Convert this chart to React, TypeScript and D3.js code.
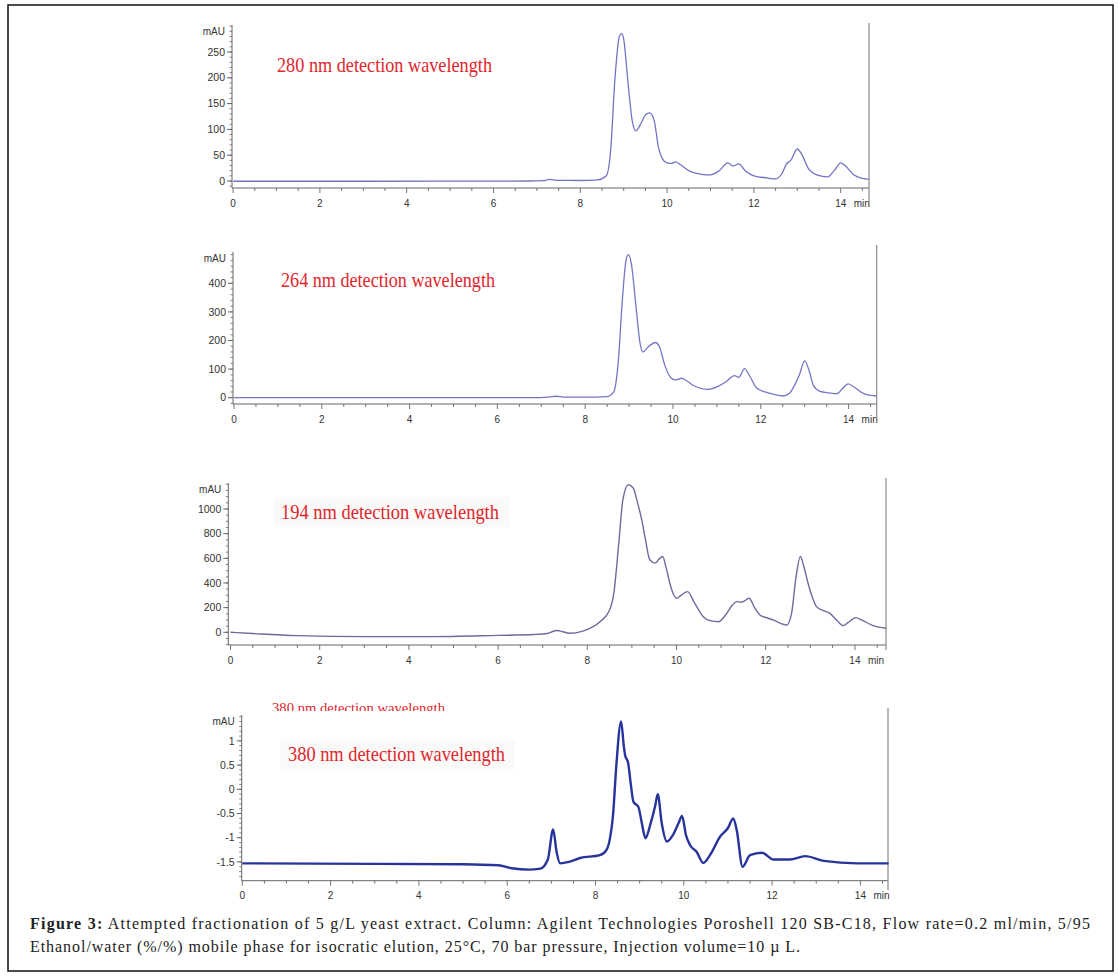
import React from 'react';
import * as d3 from 'd3';

type Pt = [number, number];

// Retention time ticks (min)
const timeTicks = [0, 2, 4, 6, 8, 10, 12, 14];

// 280 nm trace (min, mAU)
const trace280: Pt[] = [
  [0, -0.5], [3, -0.5], [6.8, 0], [7.15, 0.8], [7.3, 3], [7.45, 1.2], [8.0, 1], [8.4, 2], [8.6, 10], [8.7, 60],
  [8.8, 200], [8.9, 280], [8.95, 286], [9.0, 275], [9.1, 190], [9.2, 115], [9.28, 97], [9.4, 112],
  [9.5, 128], [9.6, 132], [9.7, 118], [9.8, 66], [9.9, 42], [10.0, 35], [10.1, 34], [10.2, 37],
  [10.3, 32], [10.5, 20], [10.8, 13], [11.0, 12], [11.2, 20], [11.4, 35], [11.52, 29], [11.65, 33],
  [11.8, 20], [12.0, 10], [12.3, 6], [12.5, 4], [12.65, 15], [12.75, 33], [12.85, 40], [13.0, 62],
  [13.1, 52], [13.25, 25], [13.45, 12], [13.7, 8], [13.85, 20], [14.0, 35], [14.1, 30], [14.3, 12],
  [14.5, 5], [14.66, 3],
];

// 264 nm trace (min, mAU)
const trace264: Pt[] = [
  [0, 0], [6.9, 0], [7.2, 3], [7.35, 5], [7.5, 2], [8.0, 2], [8.5, 4], [8.65, 20], [8.75, 120],
  [8.85, 350], [8.93, 480], [8.98, 500], [9.05, 470], [9.15, 330], [9.25, 190], [9.31, 160],
  [9.45, 180], [9.6, 193], [9.7, 175], [9.8, 120], [9.95, 70], [10.05, 62], [10.2, 68], [10.3, 60],
  [10.5, 40], [10.77, 29], [11.0, 38], [11.2, 55], [11.4, 77], [11.5, 71], [11.63, 102], [11.75, 75],
  [11.9, 35], [12.1, 20], [12.3, 12], [12.5, 6], [12.65, 15], [12.75, 38], [12.88, 80], [13.0, 129],
  [13.1, 95], [13.2, 42], [13.35, 22], [13.55, 17], [13.73, 14], [13.88, 35], [13.99, 48], [14.1, 40],
  [14.3, 18], [14.5, 8], [14.64, 6],
];

// 194 nm trace (min, mAU)
const trace194: Pt[] = [
  [0, 0], [0.5, -10], [1.5, -27], [3, -35], [4.5, -35], [6, -25], [6.8, -18], [7.1, -10], [7.3, 15],
  [7.38, 12], [7.6, -8], [7.9, 10], [8.1, 40], [8.3, 90], [8.5, 180], [8.6, 330], [8.7, 700],
  [8.8, 1080], [8.92, 1197], [9.03, 1170], [9.12, 1060], [9.22, 913], [9.3, 760], [9.4, 588],
  [9.52, 561], [9.6, 590], [9.69, 615], [9.77, 520], [9.85, 398], [9.93, 310], [10.0, 276],
  [10.1, 300], [10.25, 330], [10.4, 240], [10.6, 127], [10.75, 95], [10.94, 86], [11.1, 140],
  [11.25, 220], [11.35, 249], [11.46, 244], [11.63, 276], [11.75, 200], [11.87, 141], [12.0, 120],
  [12.17, 100], [12.35, 70], [12.47, 59], [12.58, 154], [12.68, 450], [12.78, 615], [12.85, 540],
  [12.95, 398], [13.05, 280], [13.14, 208], [13.3, 175], [13.44, 154], [13.6, 95], [13.74, 54],
  [13.85, 80], [14.02, 119], [14.15, 100], [14.41, 54], [14.7, 33],
];

// 380 nm trace (min, mAU)
const trace380: Pt[] = [
  [0, -1.53], [3, -1.54], [5, -1.55], [5.8, -1.57], [6.1, -1.63], [6.5, -1.66], [6.75, -1.64],
  [6.92, -1.45], [7.04, -0.83], [7.12, -1.3], [7.2, -1.53], [7.4, -1.5], [7.65, -1.42], [8.1, -1.36],
  [8.25, -1.25], [8.32, -1.05], [8.4, -0.5], [8.47, 0.47], [8.58, 1.4], [8.64, 0.9], [8.67, 0.71],
  [8.74, 0.54], [8.8, 0.1], [8.86, -0.26], [8.97, -0.36], [9.05, -0.7], [9.13, -1.01], [9.25, -0.7],
  [9.35, -0.35], [9.41, -0.1], [9.5, -0.7], [9.62, -1.08], [9.75, -0.95], [9.88, -0.7], [9.96, -0.55],
  [10.05, -0.95], [10.14, -1.15], [10.29, -1.29], [10.44, -1.52], [10.6, -1.35], [10.82, -0.98],
  [11.0, -0.8], [11.12, -0.6], [11.2, -0.85], [11.33, -1.6], [11.5, -1.36], [11.77, -1.31],
  [12.03, -1.45], [12.4, -1.45], [12.75, -1.38], [13.17, -1.48], [13.92, -1.53], [14.64, -1.53],
];

const yTicks280 = [0, 50, 100, 150, 200, 250];
const yTicks264 = [0, 100, 200, 300, 400];
const yTicks194 = [0, 200, 400, 600, 800, 1000];
const yTicks380 = [-1.5, -1, -0.5, 0, 0.5, 1];

const labels = ['280 nm detection wavelength', '264 nm detection wavelength', '194 nm detection wavelength', '380 nm detection wavelength'];

const captionBold = 'Figure 3:';
const captionLine1 = ' Attempted fractionation of 5 g/L yeast extract. Column: Agilent Technologies Poroshell 120 SB-C18, Flow rate=0.2 ml/min, 5/95';
const captionLine2 = 'Ethanol/water (%/%) mobile phase for isocratic elution, 25°C, 70 bar pressure, Injection volume=10 µ L.';

interface PanelCfg {
  data: Pt[];
  yTicks: number[];
  yMinor: number;
  label: string;
  x0: number; ppm: number; axisX: number; axisY: number; yTopPx: number;
  yZero: number; ppu: number; rightX: number; rightTop: number; rightBottom: number;
  labelX: number; labelY: number; labelW: number; labelBg?: boolean;
  color: string; sw: number; fmt: (v: number) => string;
}

const panels: PanelCfg[] = [
  {
    data: trace280, yTicks: yTicks280, yMinor: 10, label: labels[0],
    x0: 233.1, ppm: 43.4, axisX: 232, axisY: 188, yTopPx: 25, yZero: 181, ppu: 0.516,
    rightX: 869, rightTop: 23, rightBottom: 206, labelX: 277, labelY: 72, labelW: 215,
    color: '#7373c4', sw: 1.3, fmt: (v) => String(v),
  },
  {
    data: trace264, yTicks: yTicks264, yMinor: 20, label: labels[1],
    x0: 234, ppm: 43.9, axisX: 233, axisY: 404, yTopPx: 252, yZero: 397.7, ppu: 0.286,
    rightX: 876.7, rightTop: 245, rightBottom: 421, labelX: 281, labelY: 287, labelW: 214,
    color: '#7676c6', sw: 1.3, fmt: (v) => String(v),
  },
  {
    data: trace194, yTicks: yTicks194, yMinor: 50, label: labels[2],
    x0: 230.5, ppm: 44.6, axisX: 228.3, axisY: 645, yTopPx: 483, yZero: 632.3, ppu: 0.1233,
    rightX: 886, rightTop: 478, rightBottom: 650, labelX: 281, labelY: 519, labelW: 218, labelBg: true,
    color: '#6c6c9c', sw: 1.4, fmt: (v) => String(v),
  },
  {
    data: trace380, yTicks: yTicks380, yMinor: 0.1, label: labels[3],
    x0: 242.3, ppm: 44.15, axisX: 241.7, axisY: 880.7, yTopPx: 715, yZero: 789.3, ppu: 48.4,
    rightX: 888, rightTop: 708, rightBottom: 890, labelX: 288, labelY: 761, labelW: 217, labelBg: true,
    color: '#27349c', sw: 2.4, fmt: (v) => String(v),
  },
];

const RED = '#e0262c';
const AXIS = '#666';
const SANS = '"Liberation Sans", Arial, sans-serif';
const SERIF = '"Liberation Serif", "Times New Roman", serif';

function Panel({ p, idx }: { p: PanelCfg; idx: number }) {
  const x = d3.scaleLinear().domain([0, 14]).range([p.x0, p.x0 + 14 * p.ppm]);
  const y = d3.scaleLinear().domain([0, 1]).range([p.yZero, p.yZero - p.ppu]);
  const line = d3.line<Pt>().x((d) => x(d[0])).y((d) => y(d[1])).curve(d3.curveMonotoneX);
  const tEnd = x.invert(p.rightX);
  const xMinor = d3.range(0, tEnd + 1e-6, 0.5);
  const vLow = y.invert(p.axisY);
  const vHigh = y.invert(p.yTopPx);
  const start = Math.ceil(vLow / p.yMinor - 1e-6) * p.yMinor;
  const yMinor = d3.range(start, vHigh + 1e-6, p.yMinor).map((v) => Math.round(v * 1000) / 1000);
  const clipId = `clip-small-${idx}`;
  return (
    <g>
      {p.labelBg && (
        <rect x={p.labelX - 8} y={p.labelY - 22} width={p.labelW + 18} height={30} fill="#fafaf9" />
      )}
      {/* y axis */}
      <line x1={p.axisX} x2={p.axisX} y1={p.yTopPx} y2={p.axisY} stroke={AXIS} strokeWidth={1} />
      {yMinor.map((v, i) => (
        <line key={'ym' + i} x1={p.axisX - 2.5} x2={p.axisX} y1={y(v)} y2={y(v)} stroke={AXIS} strokeWidth={0.8} />
      ))}
      {p.yTicks.map((v) => (
        <g key={'yt' + v}>
          <line x1={p.axisX - 5} x2={p.axisX} y1={y(v)} y2={y(v)} stroke={AXIS} strokeWidth={1} />
          <text x={p.axisX - 7} y={y(v)} dy="0.35em" textAnchor="end" fontFamily={SANS} fontSize={10.5} fill="#333">
            {p.fmt(v)}
          </text>
        </g>
      ))}
      <text x={p.axisX - 7} y={p.yTopPx + 6} dy="0.35em" textAnchor="end" fontFamily={SANS} fontSize={10} fill="#333">mAU</text>
      {/* x axis */}
      <line x1={p.axisX} x2={p.rightX} y1={p.axisY} y2={p.axisY} stroke={AXIS} strokeWidth={1} />
      {xMinor.map((t, i) => (
        <line key={'xm' + i} x1={x(t)} x2={x(t)} y1={p.axisY} y2={p.axisY + (t % 2 === 0 ? 5 : 3)} stroke={AXIS} strokeWidth={0.9} />
      ))}
      {timeTicks.map((t) => (
        <text key={'xt' + t} x={x(t)} y={p.axisY + 15} dy="0.35em" textAnchor="middle" fontFamily={SANS} fontSize={10} fill="#333">
          {t}
        </text>
      ))}
      <text x={x(14) + 13} y={p.axisY + 15} dy="0.35em" fontFamily={SANS} fontSize={10} fill="#333">min</text>
      {/* right border line */}
      <line x1={p.rightX} x2={p.rightX} y1={p.rightTop} y2={p.rightBottom} stroke="#8a8a8a" strokeWidth={1.2} />
      {/* trace */}
      <path d={line(p.data) || ''} fill="none" stroke={p.color} strokeWidth={p.sw} strokeLinejoin="round" />
      {/* label */}
      <text x={p.labelX} y={p.labelY} fontFamily={SERIF} fontSize={21} fill={RED} textLength={p.labelW} lengthAdjust="spacingAndGlyphs">
        {p.label}
      </text>
      {idx === 3 && (
        <g>
          <defs>
            <clipPath id={clipId}>
              <rect x={260} y={690} width={200} height={21} />
            </clipPath>
          </defs>
          <text x={272} y={713} fontFamily={SERIF} fontSize={15} fill={RED} textLength={173} lengthAdjust="spacingAndGlyphs" clipPath={`url(#${clipId})`}>
            {p.label}
          </text>
        </g>
      )}
    </g>
  );
}

export default function App() {
  return (
    <svg width={1118} height={976} style={{ position: 'absolute', left: 0, top: 0, background: '#fff' }}>
      <rect x={0} y={0} width={1118} height={976} fill="#fff" />
      <rect x={8} y={5} width={1105} height={966} fill="none" stroke="#111" strokeWidth={1.5} />
      {panels.map((p, i) => (
        <Panel key={i} p={p} idx={i} />
      ))}
      <text x={30} y={929} fontFamily={SERIF} fontSize={16} fill="#222" textLength={1060} lengthAdjust="spacing">
        <tspan fontWeight="bold">{captionBold}</tspan>
        <tspan>{captionLine1}</tspan>
      </text>
      <text x={30} y={952} fontFamily={SERIF} fontSize={16} fill="#222" textLength={770} lengthAdjust="spacing">
        {captionLine2}
      </text>
    </svg>
  );
}
